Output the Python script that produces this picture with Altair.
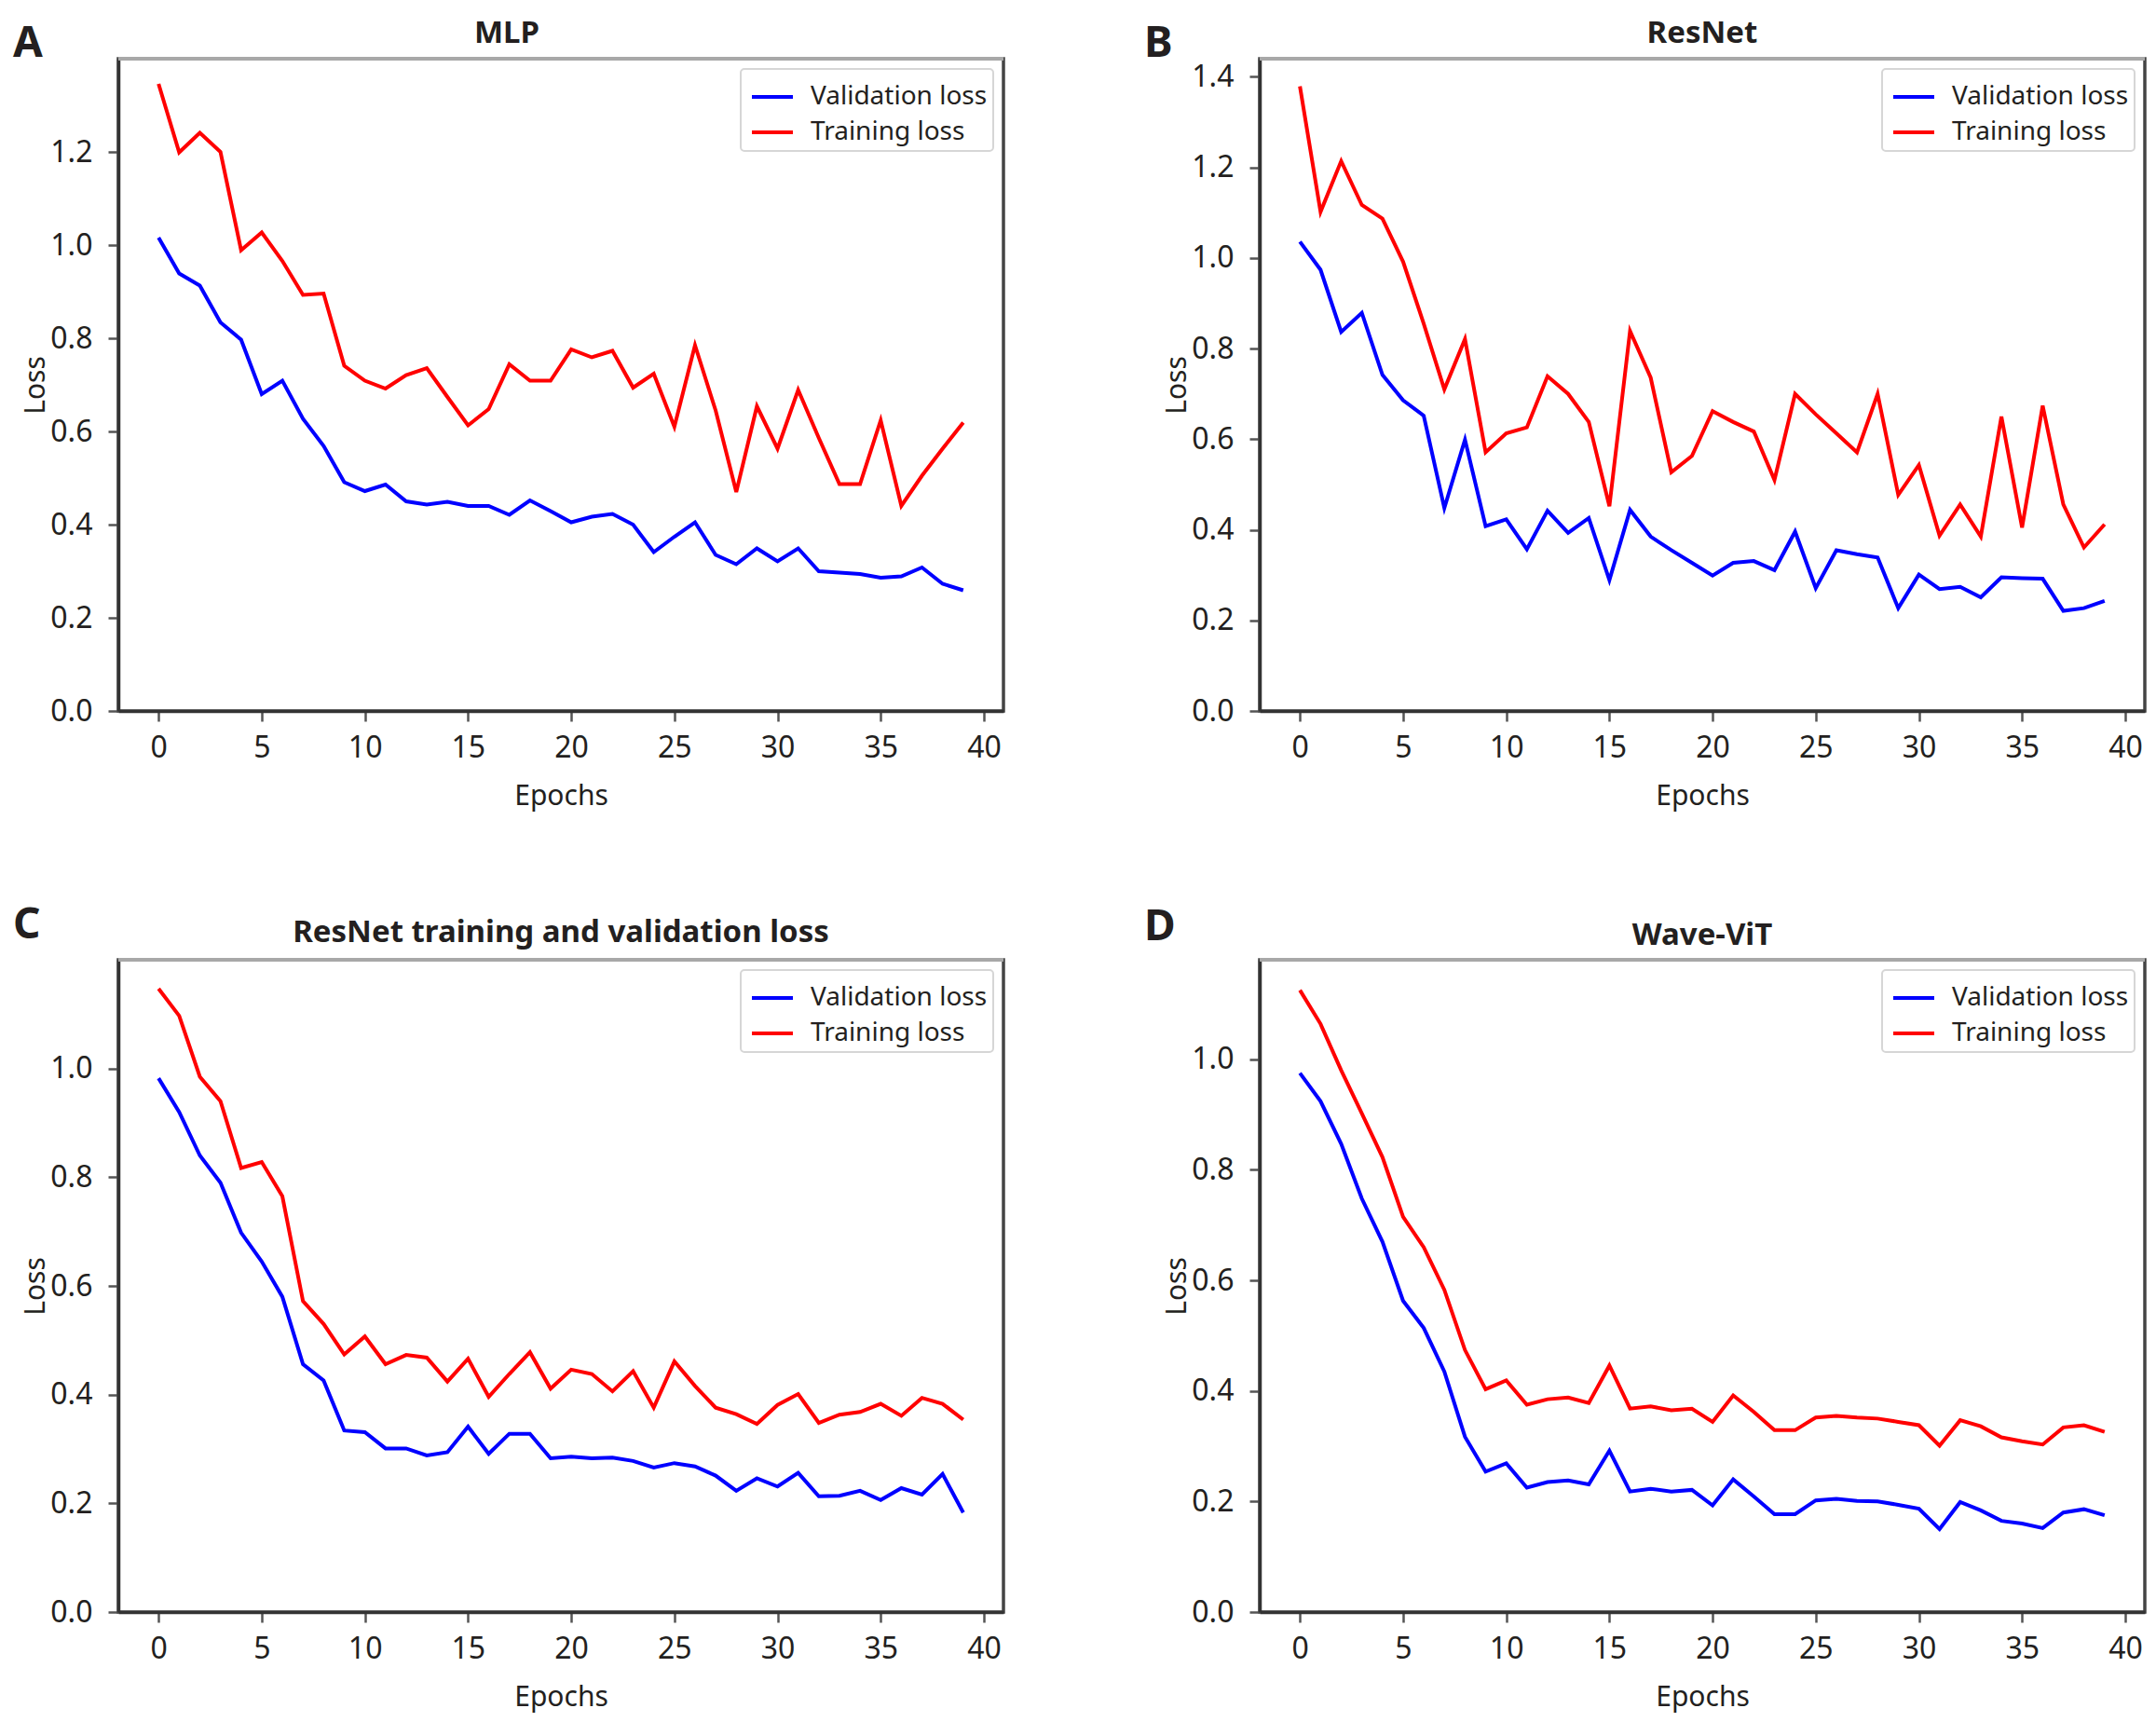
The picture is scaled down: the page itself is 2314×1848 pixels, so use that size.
import altair as alt
import pandas as pd

epochs = list(range(40))

mlp_val = [1.016, 0.939, 0.913, 0.834, 0.797, 0.680, 0.709, 0.627, 0.569, 0.491,
           0.472, 0.486, 0.450, 0.443, 0.449, 0.440, 0.440, 0.421, 0.452, 0.429,
           0.405, 0.417, 0.423, 0.400, 0.341, 0.374, 0.405, 0.335, 0.315, 0.349,
           0.321, 0.349, 0.300, 0.297, 0.294, 0.286, 0.289, 0.308, 0.273, 0.259]
mlp_train = [1.346, 1.199, 1.241, 1.200, 0.989, 1.027, 0.966, 0.893, 0.896, 0.741,
             0.709, 0.692, 0.721, 0.736, 0.674, 0.613, 0.648, 0.744, 0.709, 0.709,
             0.776, 0.759, 0.773, 0.694, 0.724, 0.610, 0.785, 0.645, 0.470, 0.654,
             0.563, 0.689, 0.586, 0.487, 0.487, 0.624, 0.440, 0.505, 0.563, 0.619]

resnet_val = [1.036, 0.974, 0.837, 0.879, 0.742, 0.686, 0.652, 0.448, 0.599, 0.408,
              0.423, 0.357, 0.442, 0.393, 0.426, 0.289, 0.444, 0.385, 0.355, 0.327,
              0.299, 0.327, 0.331, 0.311, 0.396, 0.271, 0.355, 0.346, 0.339, 0.227,
              0.301, 0.269, 0.274, 0.251, 0.295, 0.293, 0.292, 0.221, 0.227, 0.243]
resnet_train = [1.379, 1.102, 1.214, 1.117, 1.087, 0.992, 0.855, 0.710, 0.821, 0.571,
                0.613, 0.626, 0.739, 0.700, 0.638, 0.452, 0.839, 0.736, 0.527, 0.563,
                0.662, 0.638, 0.617, 0.510, 0.700, 0.655, 0.613, 0.571, 0.700, 0.477,
                0.543, 0.387, 0.456, 0.385, 0.650, 0.405, 0.674, 0.456, 0.361, 0.412]

resnet2_val = [0.982, 0.920, 0.840, 0.790, 0.698, 0.645, 0.580, 0.456, 0.426, 0.334,
               0.331, 0.301, 0.301, 0.288, 0.294, 0.341, 0.291, 0.328, 0.328, 0.283,
               0.286, 0.283, 0.284, 0.278, 0.266, 0.274, 0.268, 0.251, 0.223, 0.246,
               0.231, 0.256, 0.213, 0.214, 0.223, 0.206, 0.228, 0.216, 0.254, 0.183]
resnet2_train = [1.147, 1.097, 0.985, 0.940, 0.817, 0.828, 0.765, 0.572, 0.530, 0.474,
                 0.507, 0.456, 0.473, 0.468, 0.424, 0.466, 0.396, 0.438, 0.478, 0.411,
                 0.446, 0.438, 0.406, 0.443, 0.376, 0.461, 0.416, 0.376, 0.364, 0.346,
                 0.381, 0.401, 0.348, 0.363, 0.368, 0.383, 0.361, 0.394, 0.383, 0.354]

wavevit_val = [0.975, 0.924, 0.847, 0.748, 0.670, 0.563, 0.514, 0.435, 0.317, 0.254,
               0.269, 0.225, 0.235, 0.238, 0.231, 0.292, 0.218, 0.223, 0.218, 0.221,
               0.193, 0.240, 0.209, 0.177, 0.177, 0.202, 0.205, 0.201, 0.200, 0.194,
               0.187, 0.150, 0.199, 0.184, 0.165, 0.160, 0.152, 0.180, 0.186, 0.175]
wavevit_train = [1.125, 1.064, 0.980, 0.902, 0.823, 0.715, 0.660, 0.583, 0.474, 0.403,
                 0.419, 0.375, 0.385, 0.388, 0.378, 0.446, 0.368, 0.372, 0.365, 0.368,
                 0.344, 0.392, 0.362, 0.329, 0.329, 0.352, 0.355, 0.352, 0.350, 0.344,
                 0.338, 0.301, 0.347, 0.336, 0.316, 0.309, 0.303, 0.334, 0.338, 0.326]

series_names = ["Validation loss", "Training loss"]
series_colors = ["#0000ff", "#ff0000"]
x_ticks = list(range(0, 41, 5))

FONT = "Noto Sans"
TXT = "#231f20"
W, H = 950, 700


def panel(letter, title, val, train, ymax, yticks, title_dx, title_y, lx, ly):
    df = pd.DataFrame({
        "Epochs": epochs + epochs,
        "Loss": val + train,
        "Series": [series_names[0]] * len(val) + [series_names[1]] * len(train),
    })
    lines = alt.Chart(df).mark_line(strokeWidth=4).encode(
        x=alt.X("Epochs:Q",
                scale=alt.Scale(domain=[-1.95, 40.95], nice=False, zero=False),
                axis=alt.Axis(values=x_ticks, format="d", title="Epochs",
                              titlePadding=21, labelPadding=13)),
        y=alt.Y("Loss:Q",
                scale=alt.Scale(domain=[0, ymax], nice=False),
                axis=alt.Axis(values=yticks, format=".1f", title="Loss",
                              titlePadding=0, labelPadding=17)),
        color=alt.Color("Series:N",
                        scale=alt.Scale(domain=series_names, range=series_colors),
                        sort=series_names,
                        legend=alt.Legend(title=None, orient="top-right", offset=11,
                                          fillColor="white", strokeColor="#d6d6d6",
                                          cornerRadius=4, padding=6,
                                          symbolType="stroke", symbolStrokeWidth=4,
                                          symbolSize=1936, symbolOffset=4,
                                          labelFontSize=28,
                                          labelFont=FONT, labelColor=TXT,
                                          labelLimit=0,
                                          labelOffset=17, rowPadding=-7)),
    )
    top_edge = alt.Chart(pd.DataFrame({"t": [0]})).mark_rule(
        color="#a8a8a8", strokeWidth=4
    ).encode(x=alt.value(0), x2=alt.value(W), y=alt.value(0))
    lab = alt.Chart(pd.DataFrame({"t": [letter]})).mark_text(
        align="left", baseline="alphabetic", fontSize=46, fontWeight="bold",
        font=FONT, color=TXT
    ).encode(text="t:N", x=alt.value(lx), y=alt.value(ly))
    ttl = alt.Chart(pd.DataFrame({"t": [title]})).mark_text(
        align="center", baseline="alphabetic", fontSize=33, fontWeight="bold",
        font=FONT, color=TXT
    ).encode(text="t:N", x=alt.value(W / 2 + title_dx), y=alt.value(title_y))
    return alt.layer(lines, top_edge, lab, ttl).properties(width=W, height=H)


pA = panel("A", "MLP", mlp_val, mlp_train, 1.40,
           [0.0, 0.2, 0.4, 0.6, 0.8, 1.0, 1.2], -58, -17, -113, -2)
pB = panel("B", "ResNet", resnet_val, resnet_train, 1.44,
           [0.0, 0.2, 0.4, 0.6, 0.8, 1.0, 1.2, 1.4], 0, -17, -124, -2)
pC = panel("C", "ResNet training and validation loss", resnet2_val, resnet2_train, 1.20,
           [0.0, 0.2, 0.4, 0.6, 0.8, 1.0], 0, -19, -113, -23)
pD = panel("D", "Wave-ViT", wavevit_val, wavevit_train, 1.18,
           [0.0, 0.2, 0.4, 0.6, 0.8, 1.0], 0, -16, -124, -21)

chart = alt.concat(pA, pB, pC, pD, columns=2, spacing={"row": 267, "column": 275},
                   bounds="flush").resolve_scale(color="independent").properties(
    padding={"left": 4, "top": 10, "right": 0, "bottom": 0}, background="white"
).configure_view(
    stroke="#444444", strokeWidth=3.5
).configure_axis(
    labelFont=FONT, titleFont=FONT, labelFontSize=32, titleFontSize=30,
    labelColor=TXT, titleColor=TXT, titleFontWeight="normal",
    domainColor="#333333", domainWidth=3.5, tickColor="#555555", tickWidth=2.5,
    tickSize=11, grid=False
).configure_legend(strokeWidth=2)

chart.save("out.html", embed_options={"renderer": "svg", "actions": False})
